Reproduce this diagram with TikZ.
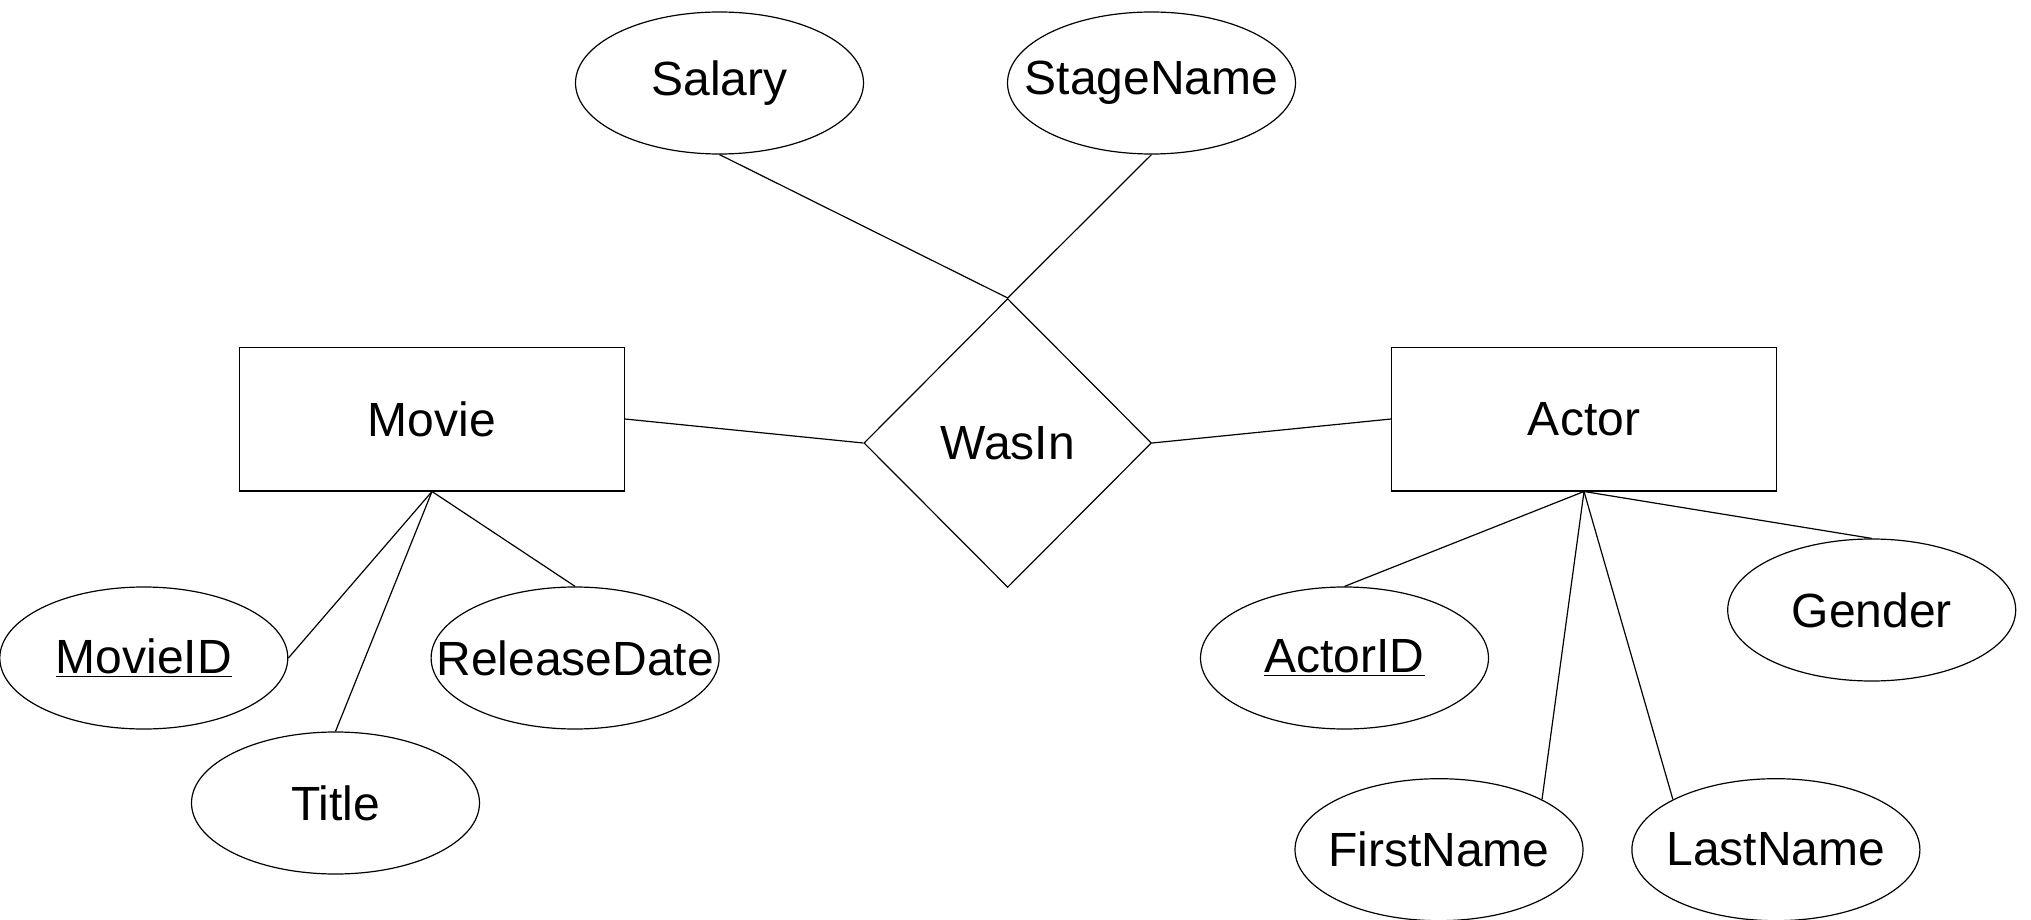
\documentclass[tikz,border=0pt]{standalone}
\usepackage{fontspec}
\setmainfont{Liberation Sans}
\usetikzlibrary{shapes.geometric}
\begin{document}
\begin{tikzpicture}[x=0.5pt,y=-0.5pt,
  every node/.style={font=\fontsize{24}{28}\selectfont},
  conn/.style={draw=black,line width=0.6pt},
  entity/.style={draw=black,line width=0.6pt,rectangle,inner sep=0pt,minimum width=192.3pt,minimum height=71.9pt},
  attr/.style={draw=black,line width=0.6pt,ellipse,inner sep=0pt,minimum width=144pt,minimum height=71pt},
  relbox/.style={draw=black,line width=0.6pt,diamond,aspect=1,inner sep=0pt,minimum width=143.8pt,minimum height=144.4pt}]
\useasboundingbox (0,0) rectangle (2031,920);
% entities and relationship
\node[entity] (movie) at (432,419) {Movie};
\node[entity] (actor) at (1584,419) {Actor};
\node[relbox] (wasin) at (1007.7,443) {\makebox[0pt]{WasIn}};
% attributes
\node[attr] (salary) at (719.5,83) {\makebox[0pt]{Salary}};
\node[attr] (stage) at (1151.5,83) {\makebox[0pt]{StageName}};
\node[attr] (movieid) at (143.8,658) {\makebox[0pt]{\underline{MovieID}}};
\node[attr] (title) at (335.5,803) {\makebox[0pt]{Title}};
\node[attr] (release) at (575.1,658) {\makebox[0pt]{ReleaseDate}};
\node[attr] (actorid) at (1344.5,658) {\makebox[0pt]{\underline{ActorID}}};
\node[attr] (gender) at (1871.7,610) {\makebox[0pt]{Gender}};
\node[attr] (first) at (1439,849.7) {\makebox[0pt]{FirstName}};
\node[attr] (last) at (1775.9,849.7) {\makebox[0pt]{LastName}};
% connectors
\draw[conn] (salary.south) -- (wasin.north);
\draw[conn] (stage.south) -- (wasin.north);
\draw[conn] (movie.east) -- (wasin.west);
\draw[conn] (wasin.east) -- (actor.west);
\draw[conn] (movie.south) -- (movieid.east);
\draw[conn] (movie.south) -- (title.north);
\draw[conn] (movie.south) -- (release.north);
\draw[conn] (actor.south) -- (actorid.north);
\draw[conn] (actor.south) -- (first.26);
\draw[conn] (actor.south) -- (last.154);
\draw[conn] (actor.south) -- (gender.north);
\end{tikzpicture}
\end{document}
